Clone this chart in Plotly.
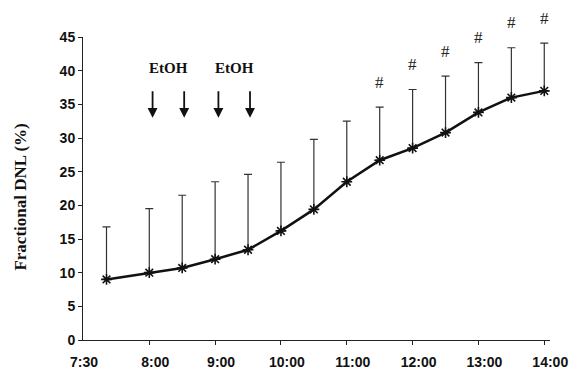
import plotly.graph_objects as go

# ---- data (time in decimal hours) ----
times = [7.35, 8.0, 8.5, 9.0, 9.5, 10.0, 10.5, 11.0, 11.5, 12.0, 12.5, 13.0, 13.5, 14.0]
dnl_mean = [9.0, 10.0, 10.7, 12.0, 13.4, 16.2, 19.4, 23.5, 26.7, 28.5, 30.8, 33.8, 36.0, 37.0]
dnl_err = [7.8, 9.5, 10.8, 11.5, 11.2, 10.2, 10.4, 9.0, 7.9, 8.7, 8.4, 7.4, 7.4, 7.1]
signif_flag = [0, 0, 0, 0, 0, 0, 0, 0, 1, 1, 1, 1, 1, 1]
etoh_times = [8.05, 8.53, 9.05, 9.53]
etoh_label_times = [8.29, 9.29]
x_tickvals = [8, 9, 10, 11, 12, 13, 14]
x_ticktext = ["8:00", "9:00", "10:00", "11:00", "12:00", "13:00", "14:00"]
first_label = "7:30"
y_tickvals = [0, 5, 10, 15, 20, 25, 30, 35, 40, 45]

SERIF = "Liberation Serif, Times New Roman, serif"
SANS = "Liberation Sans, Arial, sans-serif"

fig = go.Figure()
fig.add_trace(go.Scatter(
    x=times, y=dnl_mean, mode="lines+markers",
    line=dict(color="#111111", width=2.5),
    marker=dict(symbol="asterisk-open", size=9, color="#111111",
                line=dict(color="#111111", width=1.6)),
    error_y=dict(type="data", array=dnl_err, arrayminus=[0] * len(dnl_err),
                 symmetric=False, color="#333333", thickness=1.2, width=4),
    cliponaxis=False, showlegend=False,
))

annotations = []
for t, m, e, f in zip(times, dnl_mean, dnl_err, signif_flag):
    if f:
        annotations.append(dict(x=t, y=m + e, xref="x", yref="y", text="#",
                                showarrow=False, yanchor="middle", yshift=25,
                                font=dict(family=SERIF, size=17, color="#222222")))
for t in etoh_times:
    annotations.append(dict(x=t, y=33.0, xref="x", yref="y", ax=0, ay=-28,
                            axref="pixel", ayref="pixel", text="", showarrow=True,
                            arrowhead=2, arrowsize=1.1, arrowwidth=1.8,
                            arrowcolor="#111111"))
for t in etoh_label_times:
    annotations.append(dict(x=t, y=40.4, xref="x", yref="y", text="<b>EtOH</b>",
                            showarrow=False, yanchor="middle",
                            font=dict(family=SERIF, size=15, color="#111111")))
annotations.append(dict(x=0, y=0, xref="paper", yref="paper", text="<b>" + first_label + "</b>",
                        showarrow=False, xanchor="center", yanchor="middle",
                        xshift=1, yshift=-21.5,
                        font=dict(family=SANS, size=14, color="#111111")))
annotations.append(dict(x=0, y=0.47, xref="paper", yref="paper",
                        text="<b>Fractional DNL (%)</b>", textangle=-90,
                        showarrow=False, xanchor="center", yanchor="middle",
                        xshift=-62,
                        font=dict(family=SERIF, size=17, color="#111111")))

fig.update_layout(
    width=569, height=370,
    margin=dict(l=83, r=19, t=37, b=30),
    paper_bgcolor="white", plot_bgcolor="white",
    annotations=annotations,
    xaxis=dict(range=[6.993, 14.087], tickvals=x_tickvals, ticktext=x_ticktext,
               ticks="outside", ticklen=4, tickcolor="#222222",
               showline=True, linecolor="#222222", linewidth=1,
               showgrid=False, zeroline=False, ticklabelshift=6,
               ticklabelstandoff=5, automargin=False,
               tickfont=dict(family=SANS, size=14, color="#111111", weight="bold")),
    yaxis=dict(range=[0, 45], tickvals=y_tickvals, automargin=False,
               ticks="outside", ticklen=4, tickcolor="#222222",
               showline=True, linecolor="#222222", linewidth=1,
               showgrid=False, zeroline=False,
               tickfont=dict(family=SANS, size=14, color="#111111", weight="bold")),
)

fig.write_html("out.html")
